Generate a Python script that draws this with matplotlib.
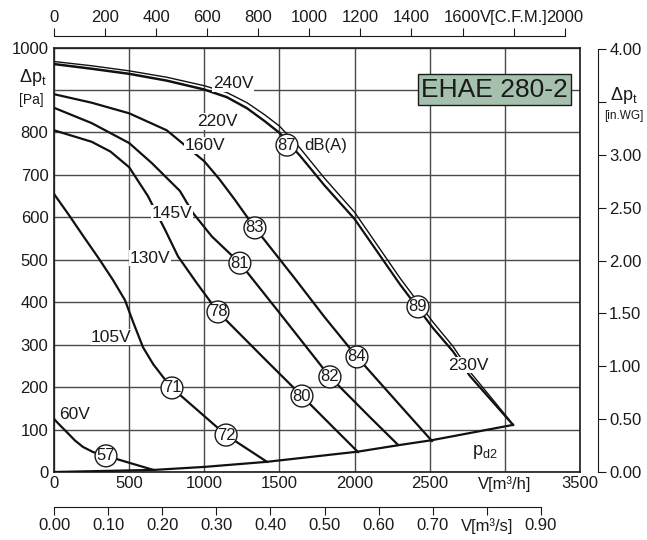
import matplotlib
matplotlib.use("Agg")
import matplotlib.pyplot as plt

plt.rcParams['font.family'] = ['Liberation Sans', 'DejaVu Sans']

# ---------------- data (m3/h, Pa) ----------------
v240_x = [0, 250, 500, 750, 1000, 1150, 1284, 1400, 1500, 1637, 1800, 2000, 2302, 2522, 2655, 2768, 3055]
v240_y = [967, 957, 945, 930, 910, 894, 870, 842, 815, 763, 692, 612, 457, 353, 296, 236, 112]
v230_x = [0, 250, 500, 750, 1000, 1150, 1284, 1400, 1500, 1637, 1800, 2000, 2302, 2522, 2655, 2768, 3055]
v230_y = [962, 951, 939, 923, 902, 884, 858, 828, 800, 746, 676, 597, 443, 340, 285, 227, 111]
v220_x = [0, 250, 500, 750, 1000, 1150, 1284, 1400, 1500, 1637, 1800, 2000, 2302, 2522, 2655, 2768, 3055]
v220_y = [960, 949, 937, 921, 900, 882, 856, 826, 798, 744, 674, 595, 441, 338, 283, 225, 110]
v160_x = [0, 250, 500, 750, 1000, 1100, 1200, 1337, 1600, 1800, 2016, 2300, 2515]
v160_y = [890, 870, 845, 805, 732, 690, 643, 575, 457, 365, 271, 158, 73]
v145_x = [0, 250, 500, 650, 838, 925, 1050, 1237, 1500, 1836, 2100, 2289]
v145_y = [858, 822, 775, 728, 662, 610, 555, 492, 375, 224, 130, 64]
v130_x = [0, 250, 375, 500, 625, 740, 825, 950, 1091, 1400, 1650, 1850, 2023]
v130_y = [805, 778, 755, 718, 650, 570, 508, 445, 377, 267, 179, 108, 47]
v105_x = [0, 100, 200, 300, 393, 472, 530, 592, 660, 725, 785, 1145, 1417]
v105_y = [655, 605, 553, 502, 452, 405, 350, 294, 254, 224, 198, 87, 24]
v60_x = [0, 40, 85, 140, 193, 260, 346, 660]
v60_y = [125, 110, 94, 74, 59, 47, 38, 5]
pd2_x = [0, 670, 1000, 1417, 2023, 2289, 2515, 3055]
pd2_y = [0, 5, 12, 24, 48, 63, 75, 111]

curve_labels = ["240V", "220V", "160V", "145V", "130V", "105V", "60V", "230V"]
db_values = ["87", "89", "83", "84", "81", "82", "78", "80", "71", "72", "57"]

x_ticks = [0, 500, 1000, 1500, 2000, 2500, 3000, 3500]
x_ticklabels = ["0", "500", "1000", "1500", "2000", "2500", "V[m³/h]", "3500"]
y_ticks = [0, 100, 200, 300, 400, 500, 600, 700, 800, 900, 1000]
y_ticklabels = ["0", "100", "200", "300", "400", "500", "600", "700", "800", "", "1000"]
cfm_ticks = [0, 200, 400, 600, 800, 1000, 1200, 1400, 1600, 1800, 2000]
cfm_ticklabels = ["0", "200", "400", "600", "800", "1000", "1200", "1400", "1600", "V[C.F.M.]", "2000"]
m3s_ticks = [0.0, 0.1, 0.2, 0.3, 0.4, 0.5, 0.6, 0.7, 0.8, 0.9]
m3s_ticklabels = ["0.00", "0.10", "0.20", "0.30", "0.40", "0.50", "0.60", "0.70", "V[m³/s]", "0.90"]
inwg_ticks = [0.0, 0.5, 1.0, 1.5, 2.0, 2.5, 3.0, 3.5, 4.0]
inwg_ticklabels = ["0.00", "0.50", "1.00", "1.50", "2.00", "2.50", "3.00", "", "4.00"]

W, H = 647, 540
fig = plt.figure(figsize=(W / 100, H / 100), dpi=100)
TXT = '#1a1a1a'
FS = 12

L, R, T, B = 54, 580, 47.5, 472
ax = fig.add_axes([L / W, 1 - B / H, (R - L) / W, (B - T) / H])
ax.set_xlim(0, 3500)
ax.set_ylim(0, 1000)
ax.set_xticks(x_ticks)
ax.set_xticklabels(x_ticklabels)
ax.set_yticks(y_ticks)
ax.set_yticklabels(y_ticklabels)
ax.tick_params(length=0, labelsize=FS, pad=3, colors=TXT)
ax.tick_params(axis='y', pad=4)
ax.grid(True, color='#4a4a4a', lw=1.0)
ax.set_axisbelow(True)
for s in ax.spines.values():
    s.set_color(TXT)
    s.set_linewidth(1.2)

lc = '#111111'
for xs, ys in [(v160_x, v160_y), (v145_x, v145_y), (v130_x, v130_y),
               (v105_x, v105_y), (v60_x, v60_y), (pd2_x, pd2_y)]:
    ax.plot(xs, ys, color=lc, lw=1.6, solid_joinstyle='round', zorder=3)
ax.plot(v240_x, v240_y, color=lc, lw=1.0, zorder=3)
ax.plot(v230_x, v230_y, color=lc, lw=1.2, zorder=3)
ax.plot(v220_x, v220_y, color=lc, lw=1.2, zorder=3)

# curve labels
lab_pos = {"240V": (1191, 916), "220V": (1085, 825), "160V": (1005, 770),
           "145V": (785, 610), "130V": (639, 504), "105V": (379, 318),
           "60V": (140, 136), "230V": (2755, 252)}
for lab in curve_labels:
    x, y = lab_pos[lab]
    ax.text(x, y, lab, fontsize=FS + 0.5, ha='center', va='center', color=TXT, zorder=5,
            bbox=dict(boxstyle='square,pad=0.05', fc='white', ec='none'))

db_pos = {"87": (1550, 770), "89": (2422, 389), "83": (1337, 575), "84": (2016, 271),
          "81": (1237, 492), "82": (1836, 224), "78": (1091, 377), "80": (1650, 179),
          "71": (785, 198), "72": (1145, 87), "57": (346, 38)}
for d in db_values:
    x, y = db_pos[d]
    ax.text(x, y, d, fontsize=FS, ha='center', va='center', color=TXT, zorder=6,
            bbox=dict(boxstyle='circle,pad=0.1', fc='white', ec=TXT, lw=1.0))
ax.text(1668, 770, "dB(A)", fontsize=FS, ha='left', va='center', color=TXT, zorder=5)
ax.text(2868, 47, "p$_{\\mathregular{d2}}$", fontsize=FS + 1, ha='center', va='center', color=TXT)

ax.text(2931, 901, "EHAE 280-2", fontsize=19, ha='center', va='center', color=TXT, zorder=6,
        bbox=dict(boxstyle='square,pad=0.12', fc='#a6c0ae', ec=TXT, lw=1.0))

# left axis label
fig.text(33 / W, 1 - 77 / H, "Δp$_\\mathregular{t}$", fontsize=13, ha='center', va='center', color=TXT)
fig.text(31 / W, 1 - 100 / H, "[Pa]", fontsize=10, ha='center', va='center', color=TXT)

# top CFM axis
cfm_per_m3h = 1 / 1.699
axt = fig.add_axes([L / W, 1 - 36 / H, (R - L) / W, 0.0001])
axt.set_xlim(0, 3500 * cfm_per_m3h)
axt.patch.set_visible(False)
for s in ['left', 'right', 'bottom']:
    axt.spines[s].set_visible(False)
axt.spines['top'].set_bounds(0, 2000)
axt.spines['top'].set_color(TXT)
axt.xaxis.tick_top()
axt.set_xticks(cfm_ticks)
axt.set_xticklabels(cfm_ticklabels)
axt.set_yticks([])
axt.tick_params(axis='x', direction='out', length=6, labelsize=FS, pad=2, colors=TXT)

# bottom m3/s axis
axb = fig.add_axes([L / W, 1 - 507 / H, (R - L) / W, 0.0001])
axb.set_xlim(0, 3500 / 3600)
axb.patch.set_visible(False)
for s in ['left', 'right', 'top']:
    axb.spines[s].set_visible(False)
axb.spines['bottom'].set_bounds(0, 0.9)
axb.spines['bottom'].set_color(TXT)
axb.set_xticks(m3s_ticks)
axb.set_xticklabels(m3s_ticklabels)
axb.set_yticks([])
axb.tick_params(axis='x', direction='out', length=6, labelsize=FS, pad=2, colors=TXT)

# right in.WG axis
axr = fig.add_axes([598 / W, 1 - B / H, 0.0001, (B - T) / H])
axr.set_ylim(0, 1000 / 249.09)
axr.patch.set_visible(False)
for s in ['left', 'top', 'bottom']:
    axr.spines[s].set_visible(False)
axr.spines['right'].set_bounds(0, 4.0)
axr.spines['right'].set_color(TXT)
axr.yaxis.tick_right()
axr.set_yticks(inwg_ticks)
axr.set_yticklabels(inwg_ticklabels)
axr.set_xticks([])
axr.tick_params(axis='y', direction='out', length=6, labelsize=FS, pad=2, colors=TXT)
fig.text(624 / W, 1 - 95 / H, "Δp$_\\mathregular{t}$", fontsize=13, ha='center', va='center', color=TXT)
fig.text(624 / W, 1 - 116 / H, "[in.WG]", fontsize=8.5, ha='center', va='center', color=TXT)

fig.savefig("out.png", dpi=100)
